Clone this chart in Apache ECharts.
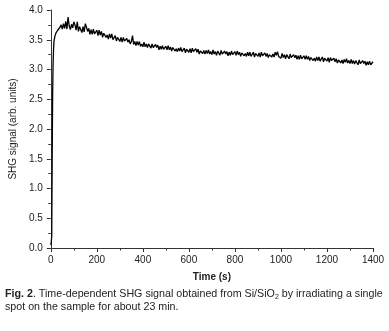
<!DOCTYPE html>
<html>
<head>
<meta charset="utf-8">
<script src="https://cdn.jsdelivr.net/npm/echarts@6/dist/echarts.min.js"></script>
<style>
  html, body { margin: 0; padding: 0; background: #fff; }
  #chart { width: 389px; height: 331px; }
</style>
</head>
<body>
<div id="chart"></div>
<script>
// x ticks (s) and y ticks (arb. units)
const xTicks = [0, 200, 400, 600, 800, 1000, 1200, 1400];
const yTicks = [0.0, 0.5, 1.0, 1.5, 2.0, 2.5, 3.0, 3.5, 4.0];

// onset of the signal
const riseTimes = [0, 2, 4, 6, 8, 10, 12, 14, 16, 18, 20, 22, 25, 28, 30, 33, 36, 38, 40];
const riseValues = [0.05, 0.10, 0.20, 1.50, 2.60, 3.10, 3.35, 3.48, 3.52, 3.56, 3.58, 3.61, 3.63, 3.60, 3.66, 3.64, 3.69, 3.67, 3.71];

// rest of the trace, one reading every 5 s from 45 s on (noise band read as its upper/lower edge)
const mainStart = 45;
const mainStep = 5;
const mainValues = [
  3.75, 3.68, 3.77, 3.69, 3.81, 3.68, 3.88, 3.73, 3.67, 3.76, 3.70, 3.80,
  3.75, 3.66, 3.80, 3.64, 3.72, 3.69, 3.62, 3.72, 3.63, 3.77, 3.71, 3.64, 3.69, 3.59, 3.67, 3.59, 3.68, 3.60, 3.61, 3.66,
  3.57, 3.66, 3.58, 3.64, 3.54, 3.61, 3.63, 3.54, 3.58, 3.51, 3.60, 3.53, 3.60, 3.50, 3.53, 3.57, 3.48, 3.54, 3.56, 3.47,
  3.54, 3.46, 3.54, 3.48, 3.46, 3.52, 3.46, 3.50, 3.43, 3.47, 3.57, 3.42, 3.47, 3.40, 3.47, 3.41, 3.47, 3.39, 3.43, 3.38,
  3.46, 3.38, 3.43, 3.37, 3.43, 3.41, 3.36, 3.43, 3.37, 3.36, 3.42, 3.37, 3.41, 3.33, 3.39, 3.34, 3.40, 3.34, 3.35, 3.39,
  3.33, 3.40, 3.33, 3.38, 3.31, 3.37, 3.38, 3.31, 3.35, 3.30, 3.36, 3.31, 3.37, 3.30, 3.32, 3.36, 3.28, 3.34, 3.35, 3.29,
  3.35, 3.28, 3.36, 3.30, 3.28, 3.35, 3.29, 3.34, 3.26, 3.31, 3.34, 3.27, 3.32, 3.26, 3.32, 3.27, 3.33, 3.26, 3.30, 3.25,
  3.33, 3.26, 3.30, 3.24, 3.31, 3.29, 3.24, 3.32, 3.26, 3.24, 3.31, 3.26, 3.30, 3.23, 3.29, 3.24, 3.31, 3.25, 3.26, 3.30,
  3.24, 3.31, 3.25, 3.29, 3.22, 3.28, 3.30, 3.23, 3.27, 3.22, 3.29, 3.23, 3.29, 3.22, 3.24, 3.29, 3.21, 3.27, 3.28, 3.22,
  3.28, 3.21, 3.29, 3.23, 3.21, 3.28, 3.22, 3.27, 3.20, 3.25, 3.28, 3.21, 3.26, 3.21, 3.29, 3.24, 3.30, 3.22, 3.25, 3.19,
  3.27, 3.20, 3.25, 3.18, 3.25, 3.23, 3.18, 3.26, 3.20, 3.18, 3.25, 3.20, 3.24, 3.17, 3.23, 3.17, 3.24, 3.18, 3.19, 3.23,
  3.17, 3.23, 3.17, 3.22, 3.15, 3.20, 3.22, 3.15, 3.19, 3.14, 3.21, 3.15, 3.21, 3.14, 3.16, 3.21, 3.13, 3.19, 3.20, 3.14,
  3.20, 3.12, 3.20, 3.15, 3.13, 3.19, 3.13, 3.18, 3.11, 3.16, 3.19, 3.11, 3.16, 3.10, 3.17, 3.12, 3.18, 3.11, 3.15, 3.10,
  3.17, 3.10, 3.15, 3.09, 3.15, 3.13, 3.08, 3.16, 3.10, 3.09, 3.15, 3.10, 3.14, 3.07, 3.13, 3.08, 3.14, 3.08, 3.09, 3.13
];

const captionBold = 'Fig. 2';
const captionLine1 = '. Time-dependent SHG signal obtained from Si/SiO';
const captionLine1End = ' by irradiating a single';
const captionLine2 = 'spot on the sample for about 23 min.';

let trace = [];
riseTimes.forEach((t, i) => trace.push([t, riseValues[i]]));
mainValues.forEach((v, i) => trace.push([mainStart + i * mainStep, v]));

const chart = echarts.init(document.getElementById('chart'));
const axisColor = '#333';
const font = '"Liberation Sans", Arial, sans-serif';

chart.setOption({
  animation: false,
  textStyle: { fontFamily: font },
  grid: { left: 50, top: 10, right: 16, bottom: 83 },
  xAxis: {
    type: 'value',
    min: xTicks[0],
    max: xTicks[xTicks.length - 1],
    interval: 200,
    name: 'Time (s)',
    nameLocation: 'middle',
    nameGap: 24,
    nameTextStyle: { fontSize: 10, fontWeight: 'bold', color: '#222', fontFamily: font },
    axisLine: { lineStyle: { color: axisColor, width: 1 } },
    axisTick: { length: 4, lineStyle: { color: axisColor } },
    minorTick: { show: true, splitNumber: 2, length: 2.5, lineStyle: { color: axisColor } },
    axisLabel: { fontSize: 10, color: '#222', margin: 7, fontFamily: font, formatter: v => String(v) },
    splitLine: { show: false }
  },
  yAxis: {
    type: 'value',
    min: yTicks[0],
    max: yTicks[yTicks.length - 1],
    interval: 0.5,
    name: 'SHG signal (arb. units)',
    nameLocation: 'middle',
    nameGap: 32,
    nameTextStyle: { fontSize: 10, color: '#222', fontFamily: font },
    axisLine: { show: true, lineStyle: { color: axisColor, width: 1 } },
    axisTick: { show: true, length: 4, lineStyle: { color: axisColor } },
    minorTick: { show: true, splitNumber: 2, length: 2.5, lineStyle: { color: axisColor } },
    axisLabel: { fontSize: 10, color: '#222', margin: 8, fontFamily: font, formatter: v => v.toFixed(1) },
    splitLine: { show: false }
  },
  series: [{
    type: 'line',
    data: trace,
    showSymbol: false,
    lineStyle: { color: '#000', width: 1.3 },
    silent: true
  }],
  graphic: [{
    type: 'text',
    left: 5,
    top: 289,
    style: {
      text: '{b|' + captionBold + '}{n|' + captionLine1 + '}{s|2}{n|' + captionLine1End + '}\n{n|' + captionLine2 + '}',
      rich: {
        b: { fontSize: 10.7, fontWeight: 'bold', fill: '#222', fontFamily: font, lineHeight: 12.5 },
        n: { fontSize: 10.7, fill: '#222', fontFamily: font, lineHeight: 12.5 },
        s: { fontSize: 7, fill: '#222', fontFamily: font, lineHeight: 8, verticalAlign: 'bottom' }
      }
    }
  }]
});
</script>
</body>
</html>
